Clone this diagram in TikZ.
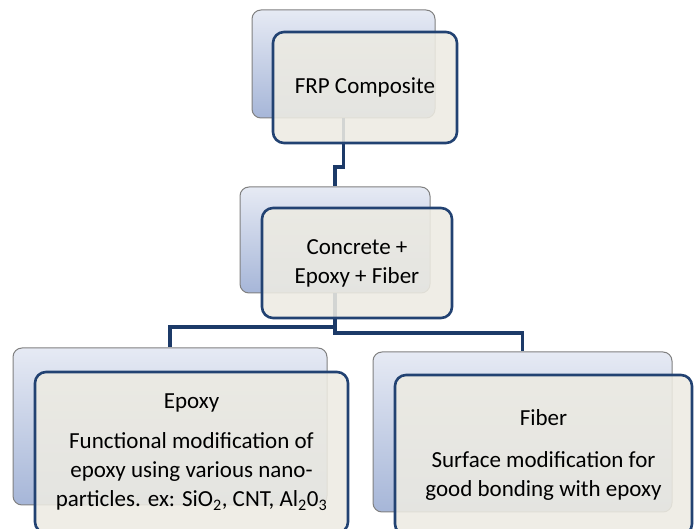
\documentclass[tikz,border=0pt]{standalone}
\usepackage{fontspec}
\setmainfont{Carlito}
\begin{document}
\definecolor{navy}{RGB}{34,66,114}
\definecolor{linenavy}{RGB}{28,58,104}
\definecolor{frontfill}{RGB}{237,235,226}
\definecolor{backtop}{RGB}{230,234,244}
\definecolor{backbot}{RGB}{166,182,216}
\definecolor{backedge}{RGB}{128,128,128}
\begin{tikzpicture}[x=1pt,y=-1pt,
  backbox/.style={draw=backedge, line width=1pt, rounded corners=9pt,
    top color=backtop, bottom color=backbot, inner sep=0pt},
  frontbox/.style={draw=navy, line width=2.6pt, rounded corners=11pt,
    fill=frontfill, fill opacity=0.88, text opacity=1, inner sep=0pt,
    align=center, font=\fontsize{23}{29}\selectfont},
  conn/.style={draw=linenavy, line width=3.6pt}]
\useasboundingbox (0,0) rectangle (697,529);
% back boxes
\node[backbox, minimum width=183pt, minimum height=108pt] (tb) at (343.5,64) {};
\node[backbox, minimum width=190pt, minimum height=106pt] (mb) at (335,240) {};
\node[backbox, minimum width=314pt, minimum height=157pt] (lb) at (170,426.5) {};
\node[backbox, minimum width=299pt, minimum height=160pt] (rb) at (522.5,432) {};
% connectors
\coordinate (j1) at (343.5,167);
\coordinate (j2) at (335,167);
\draw[conn] (tb.south) -- (j1) -- (j2) -- (mb.north);
\coordinate (l1) at (335,327);
\coordinate (l2) at (170,327);
\draw[conn] (mb.south) -- (l1) -- (l2) -- (lb.north);
\coordinate (r1) at (335,333);
\coordinate (r2) at (522.5,333);
\draw[conn] (mb.south) -- (r1) -- (r2) -- (rb.north);
% front boxes
\node[frontbox, minimum width=184pt, minimum height=111pt] (tf) at (365,87.5) {FRP Composite};
\node[frontbox, minimum width=190pt, minimum height=110pt] (mf) at (357,263) {Concrete +\\Epoxy + Fiber};
\node[frontbox, minimum width=313pt, minimum height=161pt] (lf) at (191.5,452.5)
  {Epoxy\\[11pt]Functional modification of\\epoxy using various nano-\\particles. ex: SiO\textsubscript{2}, CNT, Al\textsubscript{2}0\textsubscript{3}};
\node[frontbox, minimum width=297pt, minimum height=160pt] (rf) at (543.5,455)
  {Fiber\\[13pt]Surface modification for\\good bonding with epoxy};
\end{tikzpicture}
\end{document}
